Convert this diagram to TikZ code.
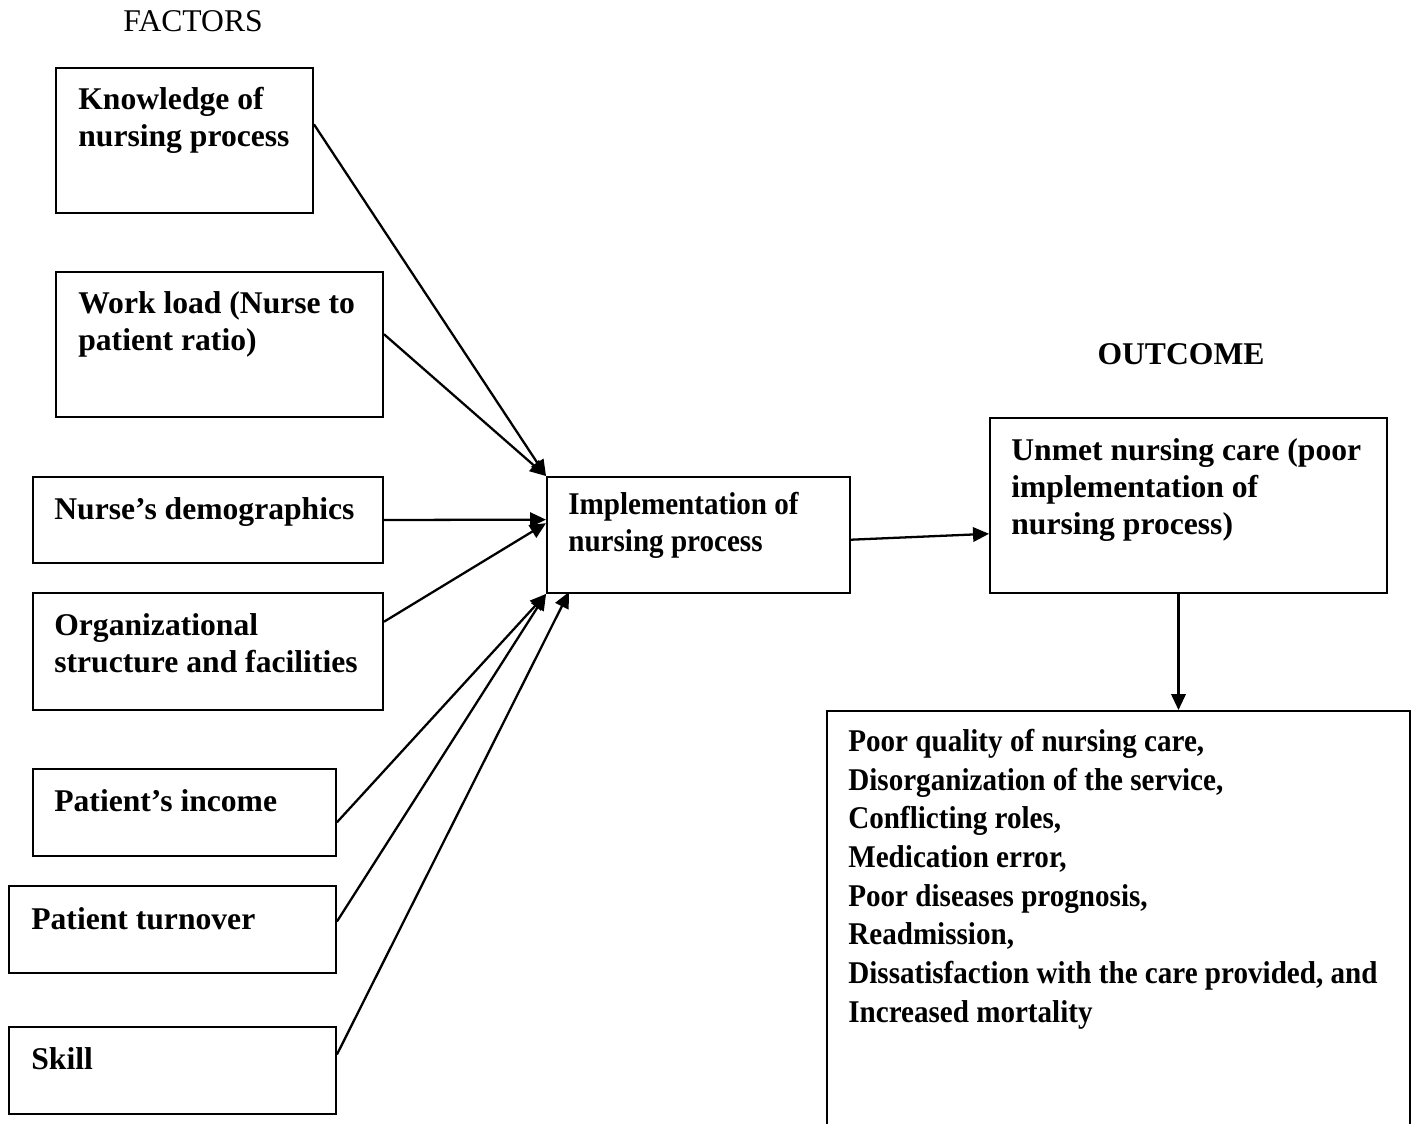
\documentclass[tikz,border=0pt]{standalone}
\usepackage{fontspec}
\setmainfont{Liberation Serif}
\newfontfamily\narrowserif[FakeStretch=0.92]{Liberation Serif}
\usetikzlibrary{calc, positioning, fit}
\usetikzlibrary{arrows.meta}

\tikzset{
  box/.style={draw, line width=1.1pt, inner sep=0pt},
  txt/.style={anchor=north west, inner sep=0pt, align=left,
    font=\fontsize{18}{21}\selectfont\bfseries},
  ntxt/.style={txt, font=\narrowserif\fontsize{18}{21}\selectfont\bfseries},
  head/.style={inner sep=0pt, font=\fontsize{18}{21}\selectfont},
  arr/.style={line width=1.3pt, -{Triangle[length=0.32cm, width=0.29cm]}}
}

\begin{document}
\begin{tikzpicture}[x=0.02cm, y=-0.02cm]
\useasboundingbox (0,0) rectangle (1418,1124);
\clip (0,0) rectangle (1418,1124);

% headings
\node[head, anchor=base] (fac) at (193,32) {FACTORS};
\node[head, anchor=base, font=\fontsize{18}{21}\selectfont\bfseries] (outc) at (1181,365) {OUTCOME};

% factor boxes
\node[box, fit={(56,68) (313,213)}] (know) {};
\node[txt] (knowt) at (78,87) {Knowledge of\\nursing process};

\node[box, fit={(56,272) (383,417)}] (work) {};
\node[txt] (workt) at (78,291) {Work load (Nurse to\\patient ratio)};

\node[box, fit={(33,477) (383,563)}] (demo) {};
\node[txt] (demot) at (54,497) {Nurse’s demographics};

\node[box, fit={(33,593) (383,710)}] (org) {};
\node[txt] (orgt) at (54,613) {Organizational\\structure and facilities};

\node[box, fit={(33,769) (336,856)}] (inc) {};
\node[txt] (inct) at (54,789) {Patient’s income};

\node[box, fit={(9,886) (336,973)}] (turn) {};
\node[txt] (turnt) at (31,907) {Patient turnover};

\node[box, fit={(9,1027) (336,1114)}] (skill) {};
\node[txt] (skillt) at (31,1047) {Skill};

% middle and outcome boxes
\node[box, fit={(547,477) (850,593)}] (impl) {};
\node[ntxt] (implt) at (568,492) {Implementation of\\nursing process};

\node[box, fit={(990,418) (1387,593)}] (unmet) {};
\node[txt] (unmett) at (1011,438) {Unmet nursing care (poor\\implementation of\\nursing process)};

\node[box, fit={(827,711) (1410,1150)}] (res) {};
\node[ntxt, font=\narrowserif\fontsize{18}{22}\selectfont\bfseries] (rest) at (848,729)
  {Poor quality of nursing care,\\Disorganization of the service,\\Conflicting roles,\\Medication error,\\Poor diseases prognosis,\\Readmission,\\Dissatisfaction with the care provided, and\\Increased mortality};

% arrows into implementation
\draw[arr] ($(know.north east)!0.39!(know.south east)$) -- (impl.north west);
\draw[arr] ($(work.north east)!0.43!(work.south east)$) -- (impl.north west);
\draw[arr] (demo.east) -- ($(impl.north west)!0.37!(impl.south west)$);
\draw[arr] ($(org.north east)!0.25!(org.south east)$) -- ($(impl.north west)!0.40!(impl.south west)$);
\draw[arr] ($(inc.north east)!0.61!(inc.south east)$) -- (impl.south west);
\draw[arr] ($(turn.north east)!0.41!(turn.south east)$) -- (impl.south west);
\draw[arr] ($(skill.north east)!0.32!(skill.south east)$) -- ($(impl.south west)+(23,-2)$);

% outcome chain
\draw[arr] ($(impl.north east)!0.54!(impl.south east)$) -- ($(unmet.north west)!0.66!(unmet.south west)$);
\coordinate (drop) at ($(unmet.south)+(-10,0)$);
\draw[arr] (drop) -- (drop |- res.north);
\end{tikzpicture}
\end{document}
